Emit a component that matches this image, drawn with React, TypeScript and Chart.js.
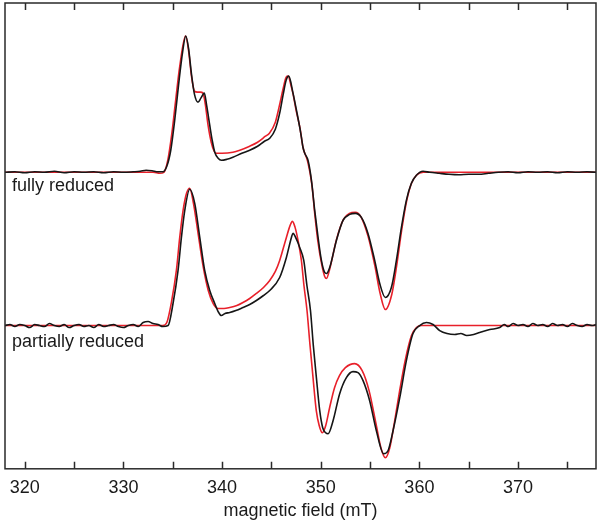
import React, { useEffect, useRef } from "react";
import { Chart, registerables } from "chart.js";

Chart.register(...registerables);

// magnetic field (mT) vs. EPR signal (arb. units)
const fullyReducedExp: [number, number][] = [
  [318.0, 0], [319.0, 0.005], [320.0, -0.005], [321.0, 0.005], [322.0, 0], [323.0, 0.01],
  [324.0, -0.005], [325.0, 0.005], [326.0, 0], [327.0, 0.005], [328.0, -0.005], [329.0, 0.005],
  [330.0, 0], [331.0, 0.005], [331.7, 0.01], [332.3, 0.02], [332.9, 0.015], [333.5, 0.005],
  [334.0, 0.005], [334.4, 0.06], [334.8, 0.22], [335.2, 0.52], [335.6, 0.88], [336.0, 1.2],
  [336.32, 1.36], [336.6, 1.24], [336.9, 0.98], [337.2, 0.78], [337.56, 0.70], [337.85, 0.74],
  [338.2, 0.79], [338.45, 0.66], [338.75, 0.47], [339.0, 0.32], [339.26, 0.2], [339.6, 0.14],
  [339.93, 0.12], [340.5, 0.13], [341.1, 0.15], [342.0, 0.19], [342.8, 0.22],
  [343.6, 0.26], [344.3, 0.31], [344.83, 0.34], [345.4, 0.43], [345.84, 0.59], [346.2, 0.78],
  [346.5, 0.92], [346.76, 0.96], [347.19, 0.79], [347.54, 0.62], [347.87, 0.45], [348.04, 0.35],
  [348.2, 0.25], [348.38, 0.19], [348.71, 0.12], [349.06, -0.08], [349.39, -0.38], [349.73, -0.65],
  [350.07, -0.88], [350.4, -1.0], [350.58, -1.01], [350.91, -0.95], [351.59, -0.68], [352.26, -0.48],
  [352.94, -0.42], [353.51, -0.41], [354.12, -0.45], [354.79, -0.61], [355.47, -0.88], [355.98, -1.11],
  [356.55, -1.25], [357.16, -1.15], [357.67, -0.88], [358.18, -0.55], [358.68, -0.28], [359.19, -0.11],
  [359.7, -0.03], [360.37, 0.01], [361.05, 0.0], [362.0, -0.01], [363.0, -0.02], [364.0, -0.025],
  [365.0, -0.02], [366.0, -0.02], [367.0, -0.01], [368.0, 0.0], [369.0, 0.005], [370.0, -0.005],
  [371.0, 0.005], [372.0, 0], [373.0, 0.005], [374.0, -0.005], [375.0, 0.005], [376.0, 0],
  [377.0, 0.005], [377.9, 0],
];

const fullyReducedFit: [number, number][] = [
  [318.0, 0], [333.0, 0], [333.7, -0.01], [334.1, 0.0], [334.5, 0.12], [334.9, 0.38],
  [335.3, 0.72], [335.7, 1.05], [336.3, 1.36], [336.6, 1.22], [336.9, 0.96], [337.2, 0.81],
  [337.5, 0.80], [337.8, 0.80], [338.07, 0.79], [338.3, 0.68], [338.58, 0.47], [338.9, 0.3],
  [339.2, 0.21], [339.43, 0.19], [340.0, 0.19], [341.1, 0.2], [341.8, 0.22], [342.8, 0.26],
  [343.6, 0.3], [344.4, 0.36], [344.8, 0.39], [345.4, 0.5], [345.8, 0.66], [346.2, 0.84],
  [346.5, 0.95], [346.7, 0.96], [347.0, 0.86], [347.2, 0.78], [347.5, 0.62], [347.9, 0.44],
  [348.2, 0.25], [348.7, 0.1], [349.1, -0.12], [349.4, -0.42], [349.7, -0.68], [350.1, -0.92],
  [350.4, -1.04], [350.58, -1.06], [350.9, -0.97], [351.6, -0.67], [352.3, -0.47], [352.9, -0.41],
  [353.5, -0.40], [354.1, -0.45], [354.8, -0.64], [355.5, -0.94], [356.0, -1.2], [356.55, -1.37],
  [357.2, -1.22], [357.7, -0.93], [358.2, -0.58], [358.7, -0.29], [359.2, -0.11], [359.7, -0.03],
  [360.4, 0.0], [377.9, 0],
];

const partiallyReducedExp: [number, number][] = [
  [318.0, 0.0], [318.5, 0.01], [319.0, -0.01], [319.5, 0.01], [320.0, 0.0], [320.5, -0.02],
  [321.0, 0.01], [321.5, 0.0], [322.0, -0.01], [322.5, 0.02], [323.0, 0.0], [323.5, -0.01],
  [324.0, 0.01], [324.5, -0.02], [325.0, 0.0], [325.5, 0.01], [326.0, -0.01], [326.5, 0.0],
  [327.0, -0.02], [327.5, 0.01], [328.0, -0.01], [328.5, 0.0], [329.0, 0.01], [329.5, -0.01],
  [330.0, -0.02], [330.5, 0.0], [331.0, 0.01], [331.5, -0.01], [332.0, 0.03], [332.5, 0.04],
  [333.0, 0.02], [333.5, 0.01], [334.0, -0.01], [334.53, 0.0], [335.03, 0.22], [335.54, 0.55],
  [335.88, 0.88], [336.22, 1.15], [336.72, 1.36], [337.23, 1.22], [337.74, 0.88], [338.24, 0.55],
  [338.75, 0.35], [339.26, 0.22], [339.6, 0.14], [339.93, 0.10], [340.3, 0.12], [340.78, 0.13],
  [341.4, 0.15], [342.12, 0.18], [342.8, 0.21], [343.48, 0.25], [344.2, 0.3], [344.83, 0.35],
  [345.84, 0.48], [346.52, 0.68], [347.03, 0.88], [347.19, 0.92], [347.5, 0.87], [347.87, 0.78],
  [348.28, 0.65], [348.6, 0.4], [348.96, 0.15], [349.25, -0.2], [349.56, -0.52], [349.9, -0.85],
  [350.2, -1.02], [350.5, -1.07], [350.74, -1.08], [351.25, -0.95], [351.92, -0.68], [352.6, -0.52], [353.27, -0.46],
  [353.78, -0.47], [354.29, -0.55], [354.96, -0.75], [355.64, -1.05], [356.38, -1.28], [356.82, -1.25],
  [357.33, -1.05], [358.01, -0.72], [358.68, -0.35], [359.35, -0.08], [360.03, 0.0], [360.71, 0.03],
  [361.38, 0.01], [362.06, -0.05], [362.8, -0.08], [363.58, -0.09], [364.2, -0.08], [364.8, -0.10],
  [365.5, -0.09], [366.11, -0.07], [367.13, -0.04], [368.14, -0.02], [368.6, 0.01], [369.0, -0.01],
  [369.5, 0.02], [370.0, 0.0], [370.5, 0.01], [371.0, -0.01], [371.5, 0.02], [372.0, 0.0],
  [372.5, 0.01], [373.0, -0.01], [373.5, 0.02], [374.0, 0.0], [374.5, 0.01], [375.0, -0.01],
  [375.5, 0.02], [376.0, 0.0], [376.5, -0.01], [377.0, 0.01], [377.5, 0.0], [377.9, 0.01],
];

const partiallyReducedFit: [number, number][] = [
  [318.0, 0], [334.0, 0], [334.4, 0.03], [334.9, 0.25], [335.37, 0.55], [335.71, 0.88],
  [336.05, 1.15], [336.4, 1.32], [336.72, 1.37], [337.1, 1.22], [337.6, 0.9], [338.1, 0.58],
  [338.6, 0.35], [339.1, 0.22], [339.59, 0.17], [340.2, 0.17], [340.78, 0.18], [341.5, 0.2],
  [342.12, 0.23], [342.8, 0.27], [343.48, 0.32], [344.2, 0.38], [344.83, 0.45], [345.4, 0.54],
  [345.84, 0.65], [346.52, 0.88], [346.9, 1.0], [347.13, 1.04], [347.4, 0.98], [347.7, 0.85],
  [348.04, 0.65], [348.3, 0.4], [348.61, 0.15], [348.9, -0.18], [349.22, -0.52], [349.55, -0.85],
  [349.85, -1.0], [350.17, -1.07], [350.5, -1.0], [350.9, -0.82], [351.4, -0.62], [351.9, -0.5],
  [352.5, -0.42], [353.44, -0.38], [354.2, -0.45], [354.9, -0.65], [355.6, -0.98], [356.1, -1.22],
  [356.55, -1.32], [357.0, -1.22], [357.5, -0.95], [358.0, -0.65], [358.6, -0.33], [359.2, -0.1],
  [359.7, -0.02], [360.2, 0], [377.9, 0],
];

// vertical offset of the upper (fully reduced) spectrum
const fullyOffset = 1.53;

const traceLabels = ["fully reduced", "partially reduced"];
const traceLabelPos: [number, number][] = [[318.7, 1.39], [318.7, -0.16]];

const xMin = 318;
const xMax = 377.9;
const yMin = -1.43;
const yMax = 3.22;
const minorStep = 5;

const FONT = "'Liberation Sans', Arial, Helvetica, sans-serif";
const RED = "#e8202a";
const BLACK = "#161616";

const toPoints = (arr: [number, number][], off: number) => arr.map(([x, y]) => ({ x, y: y + off }));

const framePlugin = {
  id: "frameAndTicks",
  afterDraw(chart: any) {
    const { ctx, chartArea } = chart;
    const { left, right, top, bottom } = chartArea;
    const xs = chart.scales.x;
    const ys = chart.scales.y;
    ctx.save();
    ctx.strokeStyle = "#2a2a2a";
    ctx.lineWidth = 1.5;
    ctx.strokeRect(left, top, right - left, bottom - top);
    ctx.beginPath();
    for (let v = Math.ceil(xMin / minorStep) * minorStep; v <= xMax; v += minorStep) {
      const px = Math.round(xs.getPixelForValue(v)) + 0.5;
      ctx.moveTo(px, bottom);
      ctx.lineTo(px, bottom - 7);
      ctx.moveTo(px, top);
      ctx.lineTo(px, top + 7);
    }
    ctx.stroke();
    ctx.fillStyle = "#1a1a1a";
    ctx.font = `18px ${FONT}`;
    ctx.textBaseline = "middle";
    ctx.textAlign = "left";
    traceLabels.forEach((t, i) => {
      const [lx, ly] = traceLabelPos[i];
      ctx.fillText(t, xs.getPixelForValue(lx), ys.getPixelForValue(ly));
    });
    ctx.restore();
  },
};

export default function App() {
  const ref = useRef<HTMLCanvasElement | null>(null);
  useEffect(() => {
    if (!ref.current) return;
    const chart = new Chart(ref.current, {
      type: "line",
      data: {
        datasets: [
          { label: "fully reduced", data: toPoints(fullyReducedExp, fullyOffset), borderColor: BLACK, order: 0 },
          { label: "partially reduced", data: toPoints(partiallyReducedExp, 0), borderColor: BLACK, order: 1 },
          { label: "fully reduced fit", data: toPoints(fullyReducedFit, fullyOffset), borderColor: RED, order: 2 },
          { label: "partially reduced fit", data: toPoints(partiallyReducedFit, 0), borderColor: RED, order: 3 },
        ].map((d) => ({
          ...d,
          borderWidth: 1.6,
          pointRadius: 0,
          fill: false,
          cubicInterpolationMode: "monotone" as const,
        })),
      },
      options: {
        animation: false,
        responsive: false,
        events: [],
        layout: { padding: { left: 5, right: 5, top: 3, bottom: 0 } },
        plugins: { legend: { display: false }, tooltip: { enabled: false } },
        scales: {
          x: {
            type: "linear",
            min: xMin,
            max: xMax,
            grid: { display: false, drawTicks: false },
            border: { display: false },
            ticks: {
              stepSize: 10,
              includeBounds: false,
              padding: 8,
              color: "#1a1a1a",
              font: { family: FONT, size: 18 },
              maxRotation: 0,
            },
            title: {
              display: true,
              text: "magnetic field (mT)",
              color: "#1a1a1a",
              font: { family: FONT, size: 18 },
              padding: { top: -6, bottom: 0 },
            },
          },
          y: { display: false, min: yMin, max: yMax },
        },
      },
      plugins: [framePlugin],
    });
    return () => chart.destroy();
  }, []);
  return (
    <div style={{ position: "absolute", left: 0, top: 0, width: 601, height: 522, background: "#fff" }}>
      <canvas ref={ref} width={601} height={522} />
    </div>
  );
}
